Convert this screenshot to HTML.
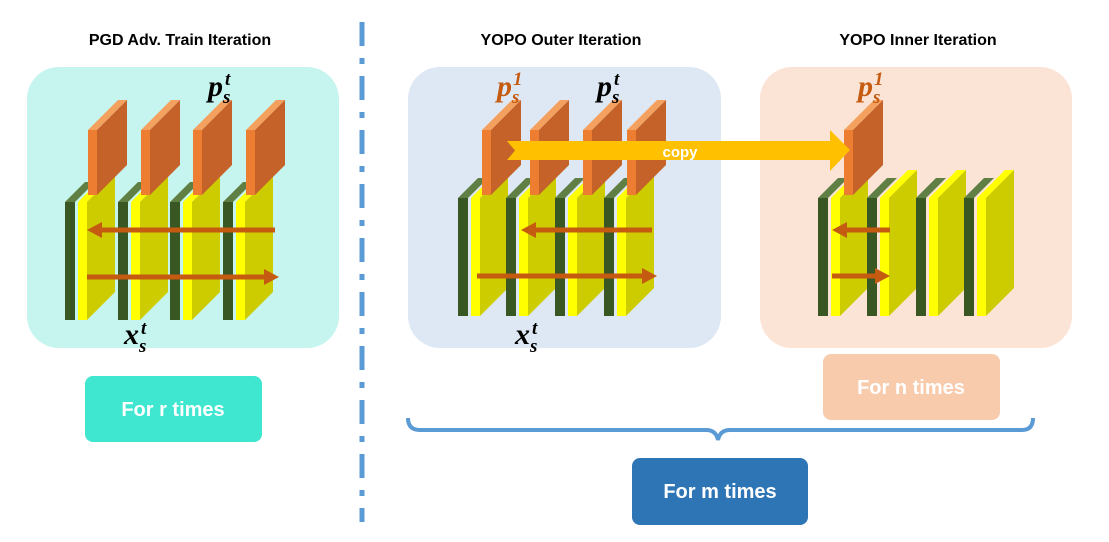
<!DOCTYPE html>
<html><head><meta charset="utf-8"><style>
html,body{margin:0;padding:0;background:#fff;}
svg{display:block;}
.t{font-family:"Liberation Sans",sans-serif;font-weight:bold;}
.m{font-family:"Liberation Serif",serif;font-weight:bold;font-style:italic;}
</style></head><body>
<svg width="1109" height="542" viewBox="0 0 1109 542" xmlns="http://www.w3.org/2000/svg">
<defs>
<g id="L">
  <polygon points="0,0 10,0 30,-20 20,-20" fill="#5f7f45"/>
  <rect x="0" y="0" width="10" height="118" fill="#385723"/>
  <polygon points="13,0 22,0 50,-28 41,-28" fill="#ffff00"/>
  <rect x="13" y="0" width="9" height="118" fill="#ffff00"/>
  <polygon points="22,0 50,-28 50,90 22,118" fill="#cccc00"/>
</g>
<g id="O">
  <polygon points="0,0 30,-30 39,-30 9,0" fill="#f4a160"/>
  <rect x="0" y="0" width="9" height="65" fill="#ed7d31"/>
  <polygon points="9,0 39,-30 39,35 9,65" fill="#c5622a"/>
</g>
</defs>

<text class="t" x="180" y="45" font-size="16" text-anchor="middle">PGD Adv. Train Iteration</text>
<text class="t" x="561" y="45" font-size="16" text-anchor="middle">YOPO Outer Iteration</text>
<text class="t" x="918" y="45" font-size="16" text-anchor="middle">YOPO Inner Iteration</text>

<line x1="362" y1="22" x2="362" y2="522" stroke="#5b9bd5" stroke-width="5" stroke-dasharray="24,12,6,12"/>

<rect x="27" y="67" width="312" height="281" rx="32" fill="#c5f5ee"/>
<rect x="408" y="67" width="313" height="281" rx="32" fill="#dde8f4"/>
<rect x="760" y="67" width="312" height="281" rx="32" fill="#fbe4d6"/>

<use href="#L" x="65" y="202"/><use href="#O" x="88" y="130"/>
<use href="#L" x="118" y="202"/><use href="#O" x="141" y="130"/>
<use href="#L" x="170" y="202"/><use href="#O" x="193" y="130"/>
<use href="#L" x="223" y="202"/><use href="#O" x="246" y="130"/>
<line x1="275" y1="230" x2="100" y2="230" stroke="#c55a11" stroke-width="5"/>
<polygon points="87,230 102,222 102,238" fill="#c55a11"/>
<line x1="87" y1="277" x2="266" y2="277" stroke="#c55a11" stroke-width="5"/>
<polygon points="279,277 264,269 264,285" fill="#c55a11"/>
<text class="m" x="208" y="96" font-size="30">p</text><text class="m" x="223" y="103" font-size="19">s</text><text class="m" x="225" y="85" font-size="19">t</text>
<text class="m" x="124" y="344" font-size="30">x</text><text class="m" x="139" y="352" font-size="19">s</text><text class="m" x="141" y="334" font-size="19">t</text>

<use href="#L" x="458" y="198"/><use href="#O" x="482" y="130"/>
<use href="#L" x="506" y="198"/><use href="#O" x="530" y="130"/>
<use href="#L" x="555" y="198"/><use href="#O" x="583" y="130"/>
<use href="#L" x="604" y="198"/><use href="#O" x="627" y="130"/>
<line x1="652" y1="230" x2="534" y2="230" stroke="#c55a11" stroke-width="5"/>
<polygon points="521,230 536,222 536,238" fill="#c55a11"/>
<line x1="477" y1="276" x2="644" y2="276" stroke="#c55a11" stroke-width="5"/>
<polygon points="657,276 642,268 642,284" fill="#c55a11"/>
<g fill="#c55a11"><text class="m" x="497" y="96" font-size="30">p</text><text class="m" x="512" y="103" font-size="19">s</text><text class="m" x="513" y="85" font-size="19">1</text></g>
<text class="m" x="597" y="96" font-size="30">p</text><text class="m" x="612" y="103" font-size="19">s</text><text class="m" x="614" y="85" font-size="19">t</text>
<text class="m" x="515" y="344" font-size="30">x</text><text class="m" x="530" y="352" font-size="19">s</text><text class="m" x="532" y="334" font-size="19">t</text>

<use href="#L" x="818" y="198"/>
<use href="#L" x="867" y="198"/>
<use href="#L" x="916" y="198"/>
<use href="#L" x="964" y="198"/>
<use href="#O" x="844" y="130"/>
<line x1="890" y1="230" x2="845" y2="230" stroke="#c55a11" stroke-width="5"/>
<polygon points="832,230 847,222 847,238" fill="#c55a11"/>
<line x1="832" y1="276" x2="877" y2="276" stroke="#c55a11" stroke-width="5"/>
<polygon points="890,276 875,268 875,284" fill="#c55a11"/>
<g fill="#c55a11"><text class="m" x="858" y="96" font-size="30">p</text><text class="m" x="873" y="103" font-size="19">s</text><text class="m" x="874" y="85" font-size="19">1</text></g>

<polygon points="507,141 830,141 830,130 850,150 830,171 830,160 507,160 515,150.5" fill="#ffc000"/>
<text class="t" x="680" y="157" font-size="15" fill="#fff" text-anchor="middle">copy</text>

<rect x="85" y="376" width="177" height="66" rx="8" fill="#3fe6d0"/>
<text class="t" x="173" y="416" font-size="20" fill="#fff" text-anchor="middle">For r times</text>
<rect x="823" y="354" width="177" height="66" rx="8" fill="#f8cbad"/>
<text class="t" x="911" y="394" font-size="20" fill="#fff" text-anchor="middle">For n times</text>

<path d="M408,418 Q408,430 420,430 L706,430 Q716,430 718,440 Q720,430 730,430 L1022,430 Q1033,430 1033,418" fill="none" stroke="#5b9bd5" stroke-width="4"/>

<rect x="632" y="458" width="176" height="67" rx="8" fill="#2e75b6"/>
<text class="t" x="720" y="498" font-size="20" fill="#fff" text-anchor="middle">For m times</text>
</svg>
</body></html>
